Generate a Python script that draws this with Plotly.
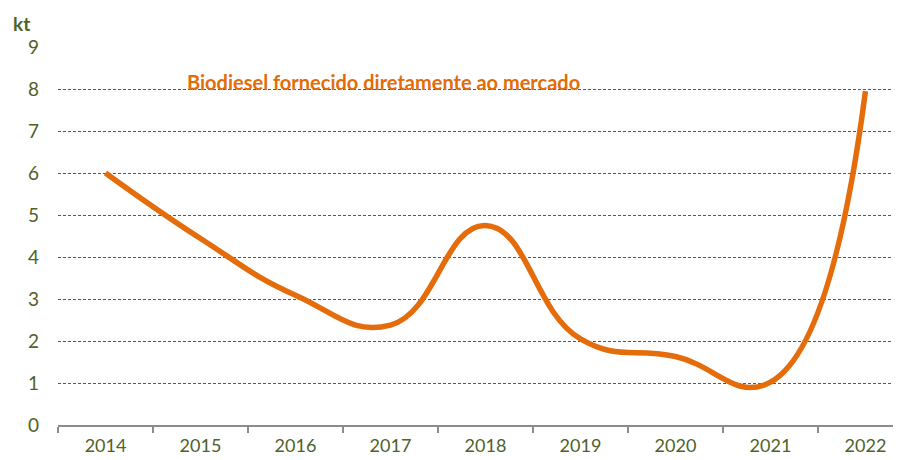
import plotly.graph_objects as go

years = ["2014", "2015", "2016", "2017", "2018", "2019", "2020", "2021", "2022"]
values = [6.0, 4.44, 3.09, 2.38, 4.75, 2.05, 1.63, 1.02, 7.95]
y_ticks = [0, 1, 2, 3, 4, 5, 6, 7, 8, 9]
series_name = "Biodiesel fornecido diretamente ao mercado"
unit_label = "kt"

OLIVE = "#4F6228"
ORANGE = "#E46C0A"
FONT = "Lato, 'Open Sans', sans-serif"

fig = go.Figure()
fig.add_trace(go.Scatter(
    x=years, y=values, mode="lines",
    line=dict(color=ORANGE, width=5.5, shape="spline", smoothing=1.3),
    name=series_name, showlegend=False, hoverinfo="x+y",
))

fig.update_layout(
    width=893, height=452,
    margin=dict(l=50, r=0, t=39, b=35),
    paper_bgcolor="white", plot_bgcolor="white",
    font=dict(family=FONT, color=OLIVE, size=18),
    xaxis=dict(
        type="category", range=[-0.5, 8.374], tickson="boundaries",
        ticks="outside", ticklen=6, tickcolor="#8C8C8C", tickwidth=1.5,
        showline=True, linecolor="#8C8C8C", linewidth=1.5,
        showgrid=False, tickfont=dict(family=FONT, size=18, color=OLIVE),
        ticklabelstandoff=4,
    ),
    yaxis=dict(
        range=[0, 9], tickvals=y_ticks, ticktext=[str(v) for v in y_ticks],
        showgrid=True, gridcolor=OLIVE, gridwidth=1, griddash="3px,2px",
        zeroline=False, showline=False, ticks="",
        tickfont=dict(family=FONT, size=19, color=OLIVE),
        ticklabelstandoff=18,
    ),
    annotations=[
        dict(text="<b>" + unit_label + "</b>", xref="paper", yref="paper",
             x=-0.043, y=1.063, xanchor="center", yanchor="middle",
             showarrow=False, font=dict(family=FONT, size=19, color=OLIVE)),
        dict(text="<b>" + series_name + "</b>", xref="paper", yref="paper",
             x=0.386, y=0.908, xanchor="center", yanchor="middle",
             showarrow=False, font=dict(family=FONT, size=20, color="#E36C09")),
    ],
)

fig.write_html("out.html")
